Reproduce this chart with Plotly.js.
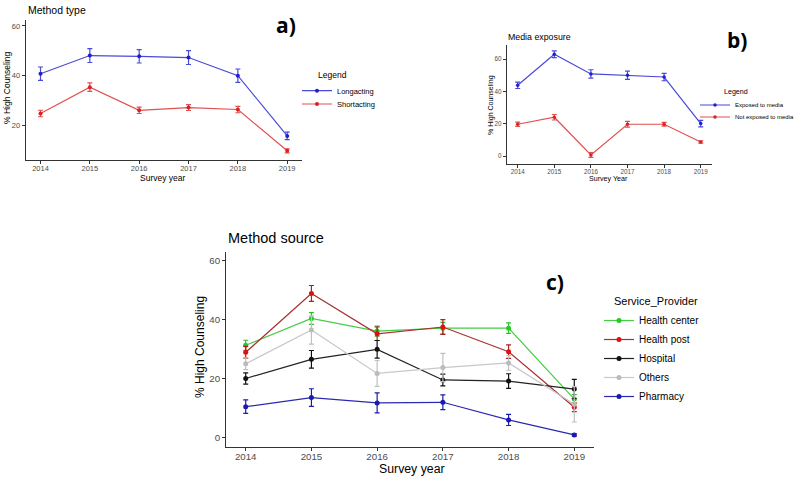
<!DOCTYPE html>
<html><head><meta charset="utf-8">
<script src="https://cdn.plot.ly/plotly-3.0.1.min.js"></script>
<style>body{margin:0;background:#fff}</style>
</head><body>
<div id="chart" style="width:800px;height:481px"></div>
<script>
const years = [2014, 2015, 2016, 2017, 2018, 2019];

// Panel a) Method type
const longacting      = [40.8, 48.1, 47.8, 47.3, 40.0, 15.8];
const longactingErr   = [2.7, 2.8, 2.7, 2.8, 2.7, 1.5];
const shortacting     = [24.8, 35.4, 26.1, 27.2, 26.4, 9.8];
const shortactingErr  = [1.3, 1.7, 1.3, 1.2, 1.3, 0.8];

// Panel b) Media exposure
const exposed         = [43.9, 63.1, 50.9, 50.1, 49.0, 20.2];
const exposedErr      = [2.0, 2.1, 2.6, 2.5, 2.3, 2.0];
const notExposed      = [19.8, 24.1, 0.8, 19.8, 19.8, 8.8];
const notExposedErr   = [1.3, 1.7, 1.5, 1.8, 1.2, 0.7];

// Panel c) Method source
const healthCenter    = [31.3, 40.4, 36.1, 37.1, 37.1, 13.0];
const healthCenterErr = [1.7, 2.0, 1.7, 2.0, 1.8, 1.5];
const healthPost      = [28.9, 48.9, 35.2, 37.5, 29.1, 10.2];
const healthPostErr   = [2.0, 2.7, 2.3, 2.5, 2.3, 1.5];
const hospital        = [20.0, 26.5, 29.9, 19.5, 19.1, 16.4];
const hospitalErr     = [1.9, 3.0, 3.0, 2.0, 2.5, 3.3];
const others          = [25.0, 36.5, 21.7, 23.7, 25.3, 11.2];
const othersErr       = [2.0, 4.8, 4.4, 4.8, 2.5, 6.0];
const pharmacy        = [10.4, 13.5, 11.7, 11.9, 5.9, 0.8];
const pharmacyErr     = [2.3, 3.0, 3.4, 2.5, 1.9, 0.4];

const yTicksA = [20, 40, 60];
const yTicksBC = [0, 20, 40, 60];

function tr(name, y, err, color, lineColor, errColor, xa, ya, leg, msize) {
  return {
    type: 'scatter', mode: 'lines+markers', name: name, x: years, y: y,
    xaxis: xa, yaxis: ya, legend: leg,
    line: {color: lineColor, width: 1.2},
    marker: {color: color, size: msize},
    error_y: {type: 'data', array: err, visible: true, color: errColor, thickness: 1.2, width: 2.5}
  };
}

const data = [
  tr('Longacting', longacting, longactingErr, '#1f1fd0', '#4a4ad8', '#4a4ad8', 'x', 'y', 'legend', 4),
  tr('Shortacting', shortacting, shortactingErr, '#e02020', '#e05050', '#e05050', 'x', 'y', 'legend4', 4),
  tr('Exposed to media', exposed, exposedErr, '#1f1fd0', '#4a4ad8', '#4a4ad8', 'x2', 'y2', 'legend2', 3.5),
  tr('Not exposed to media', notExposed, notExposedErr, '#e02020', '#e05050', '#e05050', 'x2', 'y2', 'legend5', 3.5),
  tr('Health center', healthCenter, healthCenterErr, '#22cc22', '#44cc44', '#33bb33', 'x3', 'y3', 'legend3', 5),
  tr('Health post', healthPost, healthPostErr, '#dd1111', '#a83030', '#b02020', 'x3', 'y3', 'legend3', 5),
  tr('Hospital', hospital, hospitalErr, '#111111', '#222222', '#111111', 'x3', 'y3', 'legend3', 5),
  tr('Others', others, othersErr, '#bbbbbb', '#c8c8c8', '#c0c0c0', 'x3', 'y3', 'legend3', 5),
  tr('Pharmacy', pharmacy, pharmacyErr, '#1a1ab0', '#2a2ab0', '#1a1ab0', 'x3', 'y3', 'legend3', 5)
];

function xax(domain, anchor, fs) {
  return {domain: domain, anchor: anchor, range: [2013.7, 2019.3], tickvals: years,
    showline: true, linecolor: '#333', linewidth: 1, ticks: 'outside', ticklen: 3, tickcolor: '#333',
    ticklabelstandoff: -2,
    showgrid: false, zeroline: false, tickfont: {family: 'Liberation Sans', size: fs, color: '#4d4d4d'}};
}
function yax(domain, anchor, range, ticks, fs) {
  return {domain: domain, anchor: anchor, range: range, tickvals: ticks,
    showline: true, linecolor: '#333', linewidth: 1, ticks: 'outside', ticklen: 3, tickcolor: '#333',
    showgrid: false, zeroline: false, tickfont: {family: 'Liberation Sans', size: fs, color: '#4d4d4d'}};
}

function txt(text, x, y, size, opts) {
  return Object.assign({text: text, x: x / 800, y: 1 - y / 481, xref: 'paper', yref: 'paper',
    showarrow: false, xanchor: 'center', yanchor: 'middle',
    font: {family: 'Liberation Sans', size: size, color: '#000'}}, opts || {});
}
const boldLab = s => ({font: {family: 'Open Sans', size: s, color: '#000'}});

const annotations = [
  txt('Method type', 26, 10, 10.5, {xanchor: 'left'}),
  txt('Media exposure', 506, 37, 8.8, {xanchor: 'left'}),
  txt('Method source', 226, 238, 14.5, {xanchor: 'left'}),
  txt('<b>a)</b>', 286, 25, 21, boldLab(21)),
  txt('<b>b)</b>', 737, 40, 21, boldLab(21)),
  txt('<b>c)</b>', 555, 282, 21, boldLab(21)),
  txt('Survey year', 163, 178, 8.5),
  txt('% High Counseling', 7, 88, 8.5, {textangle: -90}),
  txt('Survey Year', 608, 178.5, 7.1),
  txt('% High Counseling', 491, 105, 7, {textangle: -90}),
  txt('Survey year', 412, 468.5, 12.3),
  txt('% High Counseling', 200, 347, 12, {textangle: -90}),
  txt('Legend', 315.7, 75, 8.5, {xanchor: 'left'}),
  txt('Legend', 722, 91.7, 7.1, {xanchor: 'left'}),
  txt('Service_Provider', 612, 300.7, 11, {xanchor: 'left'})
];

function itemLegend(xpx, ypx, fs) {
  return {x: xpx / 800, y: 1 - ypx / 481, xanchor: 'left', yanchor: 'middle', bgcolor: 'rgba(0,0,0,0)',
    font: {family: 'Liberation Sans', size: fs, color: '#000'}, itemwidth: 30};
}

const layout = {
  width: 800, height: 481, margin: {l: 0, r: 0, t: 0, b: 0, autoexpand: false},
  paper_bgcolor: '#fff', plot_bgcolor: '#fff', showlegend: true,
  xaxis: xax([25.7 / 800, 302 / 800], 'y', 7.5),
  yaxis: yax([1 - 160 / 481, 1 - 20 / 481], 'x', [6.1, 62.4], yTicksA, 7.5),
  xaxis2: xax([506.7 / 800, 711.7 / 800], 'y2', 6.3),
  yaxis2: yax([1 - 164 / 481, 1 - 45 / 481], 'x2', [-4.8, 68.8], yTicksBC, 6.3),
  xaxis3: xax([226 / 800, 594 / 800], 'y3', 9.7),
  yaxis3: yax([1 - 446.7 / 481, 1 - 251.7 / 481], 'x3', [-3.2, 63.1], yTicksBC, 9.7),
  legend: itemLegend(297, 90.7, 7.5),
  legend4: itemLegend(297, 104, 7.5),
  legend2: itemLegend(695, 105, 6),
  legend5: itemLegend(695, 117, 6),
  legend3: itemLegend(599, 358.5, 10),
  annotations: annotations
};

Plotly.newPlot('chart', data, layout, {displayModeBar: false, staticPlot: true});
</script>
</body></html>
